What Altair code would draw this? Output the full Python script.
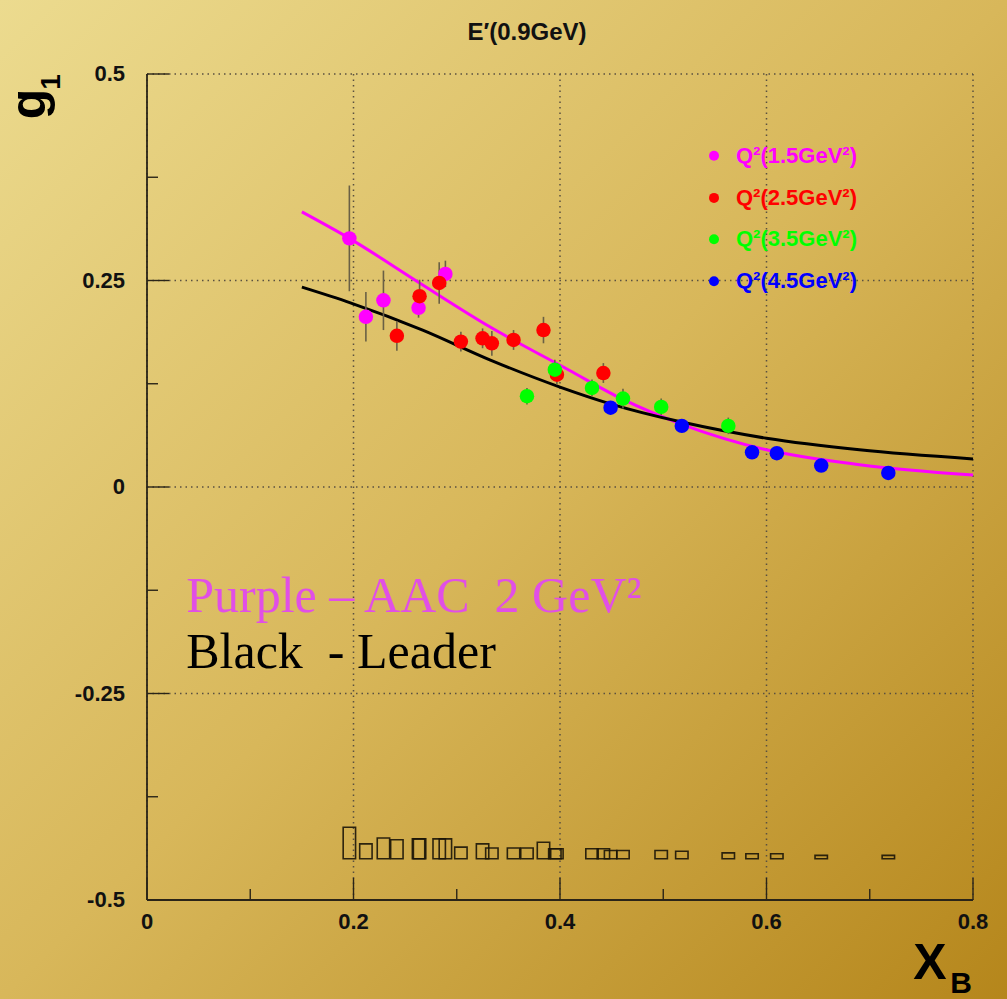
import altair as alt
import pandas as pd

# ---- measurements per Q^2 bin: x_B, g1, statistical and systematic errors ----
q15_x = [0.196, 0.212, 0.229, 0.263, 0.289]
q15_g1 = [0.301, 0.206, 0.226, 0.217, 0.258]
q15_stat = [0.064, 0.030, 0.036, 0.012, 0.016]
q15_sys = [0.038, 0.018, 0.025, 0.024, 0.024]

q25_x = [0.242, 0.264, 0.283, 0.304, 0.325, 0.334, 0.355, 0.384, 0.397, 0.442]
q25_g1 = [0.183, 0.231, 0.247, 0.176, 0.180, 0.174, 0.178, 0.190, 0.136, 0.138]
q25_stat = [0.018, 0.020, 0.025, 0.012, 0.012, 0.015, 0.012, 0.016, 0.012, 0.012]
q25_sys = [0.023, 0.024, 0.024, 0.014, 0.018, 0.013, 0.013, 0.020, 0.012, 0.012]

q35_x = [0.368, 0.395, 0.431, 0.461, 0.498, 0.563]
q35_g1 = [0.110, 0.142, 0.120, 0.107, 0.097, 0.074]
q35_stat = [0.010, 0.012, 0.010, 0.012, 0.010, 0.010]
q35_sys = [0.013, 0.012, 0.012, 0.010, 0.010, 0.007]

q45_x = [0.449, 0.518, 0.586, 0.610, 0.653, 0.718]
q45_g1 = [0.096, 0.074, 0.042, 0.041, 0.026, 0.017]
q45_stat = [0.008, 0.008, 0.007, 0.007, 0.007, 0.007]
q45_sys = [0.010, 0.009, 0.006, 0.006, 0.004, 0.004]

series_labels = ["Q²(1.5GeV²)", "Q²(2.5GeV²)", "Q²(3.5GeV²)", "Q²(4.5GeV²)"]
series_colors = ["#ff00ff", "#ff0000", "#00ff00", "#0000ff"]
legend_y = [0.401, 0.350, 0.300, 0.249]

# ---- model curves ----
aac_x = [0.15, 0.196, 0.264, 0.332, 0.408, 0.461, 0.52, 0.60, 0.69, 0.80]
aac_g1 = [0.333, 0.301, 0.247, 0.194, 0.142, 0.106, 0.075, 0.045, 0.027, 0.0145]
leader_x = [0.15, 0.197, 0.267, 0.332, 0.40, 0.448, 0.52, 0.60, 0.69, 0.80]
leader_g1 = [0.242, 0.223, 0.190, 0.154, 0.121, 0.101, 0.078, 0.059, 0.045, 0.034]

# ---- axis ticks and labels ----
x_major = [0, 0.2, 0.4, 0.6, 0.8]
x_major_labels = ["0", "0.2", "0.4", "0.6", "0.8"]
x_minor = [0.1, 0.3, 0.5, 0.7]
y_major = [-0.5, -0.25, 0, 0.25, 0.5]
y_major_labels = ["-0.5", "-0.25", "0", "0.25", "0.5"]
y_minor = [-0.375, -0.125, 0.125, 0.375]

SYS_BASE = -0.45
BOX_HALF = 0.006

W, H = 826, 826
PAD_L, PAD_T, PAD_R, PAD_B = 147, 74, 34, 99

rows = []
for label, xs_, gs, st, sy in zip(
    series_labels,
    [q15_x, q25_x, q35_x, q45_x],
    [q15_g1, q25_g1, q35_g1, q45_g1],
    [q15_stat, q25_stat, q35_stat, q45_stat],
    [q15_sys, q25_sys, q35_sys, q45_sys],
):
    for x, g, s, e in zip(xs_, gs, st, sy):
        rows.append({"series": label, "x": x, "g1": g, "stat": s, "sys": e})
points = pd.DataFrame(rows)

aac = pd.DataFrame({"x": aac_x, "g1": aac_g1})
leader = pd.DataFrame({"x": leader_x, "g1": leader_g1})
legend_df = pd.DataFrame({"series": series_labels, "y": legend_y})

xs = alt.Scale(domain=[0, 0.8], nice=False, zero=False)
ys = alt.Scale(domain=[-0.5, 0.5], nice=False, zero=False)
color_scale = alt.Scale(domain=series_labels, range=series_colors)

one = pd.DataFrame({"k": [0]})


def X(field):
    return alt.X(field, scale=xs, axis=None)


def Y(field):
    return alt.Y(field, scale=ys, axis=None)


# gilded backdrop over the whole canvas
background = alt.Chart(one).mark_rect(
    fill=alt.Gradient(
        gradient="linear",
        stops=[
            alt.GradientStop(color="#ecdb8f", offset=0),
            alt.GradientStop(color="#d8b75a", offset=0.5),
            alt.GradientStop(color="#b5861b", offset=1),
        ],
        x1=0, y1=0, x2=1, y2=1,
    )
).encode(
    x=alt.value(-PAD_L), x2=alt.value(W + PAD_R),
    y=alt.value(-PAD_T), y2=alt.value(H + PAD_B),
)

grid_style = dict(color="#5a5040", strokeDash=[1.5, 4], strokeWidth=1.5)
vgrid = alt.Chart(pd.DataFrame({"x": x_major})).mark_rule(**grid_style).encode(
    x=X("x:Q"), y=alt.value(0), y2=alt.value(H)
)
hgrid = alt.Chart(pd.DataFrame({"y": y_major})).mark_rule(**grid_style).encode(
    y=Y("y:Q"), x=alt.value(0), x2=alt.value(W)
)

# systematic error boxes along the bottom
sys_boxes = alt.Chart(points).transform_calculate(
    x0=f"datum.x - {BOX_HALF}", x1=f"datum.x + {BOX_HALF}",
    y0=f"{SYS_BASE}", y1=f"{SYS_BASE} + datum.sys",
).mark_rect(fill=None, stroke="#1a1408", strokeWidth=1.6, opacity=0.9).encode(
    x=X("x0:Q"), x2="x1:Q", y=Y("y0:Q"), y2="y1:Q",
)

aac_line = alt.Chart(aac).mark_line(
    strokeWidth=3, interpolate="monotone", color="#ff00ff"
).encode(x=X("x:Q"), y=Y("g1:Q"))
leader_line = alt.Chart(leader).mark_line(
    strokeWidth=3, interpolate="monotone", color="#000000"
).encode(x=X("x:Q"), y=Y("g1:Q"))

errbars = alt.Chart(points).transform_calculate(
    lo="datum.g1 - datum.stat", hi="datum.g1 + datum.stat"
).mark_rule(color="#6a6045", strokeWidth=1.6).encode(
    x=X("x:Q"), y=Y("lo:Q"), y2="hi:Q",
)

dots = alt.Chart(points).mark_circle(size=210, opacity=1).encode(
    x=X("x:Q"), y=Y("g1:Q"),
    color=alt.Color("series:N", scale=color_scale, legend=None),
)

axis_line_style = dict(color="#2a2418", strokeWidth=1.8)
left_axis = alt.Chart(one).mark_rule(**axis_line_style).encode(
    x=alt.value(0), y=alt.value(0), y2=alt.value(H)
)
bottom_axis = alt.Chart(one).mark_rule(**axis_line_style).encode(
    x=alt.value(0), x2=alt.value(W), y=alt.value(H)
)
tick_style = dict(color="#2a2418", strokeWidth=1.4)
xt_major = alt.Chart(pd.DataFrame({"x": x_major})).mark_rule(**tick_style).encode(
    x=X("x:Q"), y=alt.value(H - 22), y2=alt.value(H)
)
xt_minor = alt.Chart(pd.DataFrame({"x": x_minor})).mark_rule(**tick_style).encode(
    x=X("x:Q"), y=alt.value(H - 11), y2=alt.value(H)
)
yt_major = alt.Chart(pd.DataFrame({"y": y_major})).mark_rule(**tick_style).encode(
    y=Y("y:Q"), x=alt.value(0), x2=alt.value(22)
)
yt_minor = alt.Chart(pd.DataFrame({"y": y_minor})).mark_rule(**tick_style).encode(
    y=Y("y:Q"), x=alt.value(0), x2=alt.value(11)
)

label_style = dict(font="Liberation Sans", fontWeight="bold", fontSize=22,
                   color="#111111")
xlabels = alt.Chart(pd.DataFrame({"x": x_major, "t": x_major_labels})).mark_text(
    align="center", baseline="middle", **label_style
).encode(x=X("x:Q"), y=alt.value(H + 22), text="t:N")
ylabels = alt.Chart(pd.DataFrame({"y": y_major, "t": y_major_labels})).mark_text(
    align="right", baseline="middle", **label_style
).encode(y=Y("y:Q"), x=alt.value(-22), text="t:N")

# in-frame legend
leg_dots = alt.Chart(legend_df).mark_circle(size=100, opacity=1).encode(
    x=alt.value(714 - PAD_L),
    y=Y("y:Q"),
    color=alt.Color("series:N", scale=color_scale, legend=None),
)
leg_text = alt.Chart(legend_df).mark_text(
    align="left", baseline="middle", font="Liberation Sans", fontWeight="bold",
    fontSize=22,
).encode(
    x=alt.value(736 - PAD_L),
    y=Y("y:Q"),
    text="series:N",
    color=alt.Color("series:N", scale=color_scale, legend=None),
)

notes = pd.DataFrame({
    "x": [0.038, 0.038],
    "y": [-0.151, -0.219],
    "text": ["Purple \u2013 AAC \u00a02 GeV²", "Black \u00a0- Leader"],
    "c": ["#e14fe6", "#000000"],
})
note_text = alt.Chart(notes).mark_text(
    align="left", baseline="alphabetic", font="Liberation Serif", fontSize=50,
).encode(
    x=X("x:Q"), y=Y("y:Q"),
    text="text:N",
    color=alt.Color("c:N", scale=None, legend=None),
)

title_text = alt.Chart(one).mark_text(
    text="E\u2032(0.9GeV)", font="Liberation Sans", fontWeight="bold", fontSize=24,
    align="center", baseline="middle", color="#111111",
).encode(x=alt.value(527 - PAD_L), y=alt.value(33 - PAD_T))

ytitle = alt.Chart(one).mark_text(
    text="g", font="Liberation Sans", fontWeight="bold", fontSize=50,
    angle=270, align="center", baseline="middle", color="#000000",
).encode(x=alt.value(30 - PAD_L), y=alt.value(104 - PAD_T))
ytitle_sub = alt.Chart(one).mark_text(
    text="1", font="Liberation Sans", fontWeight="bold", fontSize=28,
    angle=270, align="center", baseline="middle", color="#000000",
).encode(x=alt.value(52 - PAD_L), y=alt.value(82 - PAD_T))

xtitle = alt.Chart(one).mark_text(
    text="X", font="Liberation Sans", fontWeight="bold", fontSize=50,
    align="center", baseline="middle", color="#000000",
).encode(x=alt.value(930 - PAD_L), y=alt.value(964 - PAD_T))
xtitle_sub = alt.Chart(one).mark_text(
    text="B", font="Liberation Sans", fontWeight="bold", fontSize=30,
    align="center", baseline="middle", color="#000000",
).encode(x=alt.value(961 - PAD_L), y=alt.value(984 - PAD_T))

chart = alt.layer(
    background, vgrid, hgrid, sys_boxes, aac_line, leader_line, errbars, dots,
    left_axis, bottom_axis, xt_major, xt_minor, yt_major, yt_minor,
    xlabels, ylabels, leg_dots, leg_text, note_text, title_text,
    ytitle, ytitle_sub, xtitle, xtitle_sub,
).properties(
    width=W, height=H,
    autosize=alt.AutoSizeParams(type="none"),
    padding={"left": PAD_L, "top": PAD_T, "right": PAD_R, "bottom": PAD_B},
    background="#d4b152",
).configure_view(stroke=None)

chart.save("out.html", embed_options={"renderer": "svg", "actions": False})
